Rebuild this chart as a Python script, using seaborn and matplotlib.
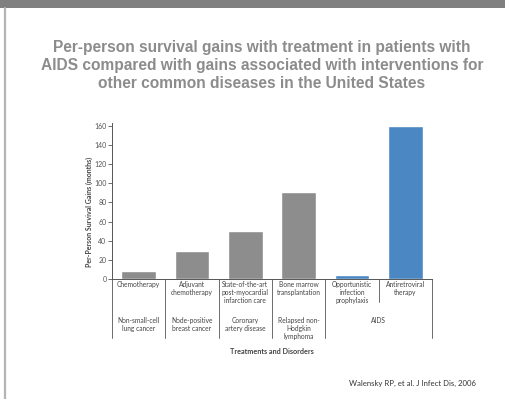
import matplotlib
matplotlib.use("Agg")
import matplotlib.pyplot as plt
from matplotlib.patches import Rectangle
from matplotlib.lines import Line2D
import seaborn as sns
import pandas as pd

# Treatments, the disorders they address, and per-person survival gains (months)
treatments = [
    "Chemotherapy",
    "Adjuvant\nchemotherapy",
    "State-of-the-art\npost-myocardial\ninfarction care",
    "Bone marrow\ntransplantation",
    "Opportunistic\ninfection\nprophylaxis",
    "Antiretroviral\ntherapy",
]
disorders = [
    "Non-small-cell\nlung cancer",
    "Node-positive\nbreast cancer",
    "Coronary\nartery disease",
    "Relapsed non-\nHodgkin\nlymphoma",
]
aids_label = "AIDS"
gains = [8, 29, 50, 91, 4, 160]
groups = ["Other", "Other", "Other", "Other", "AIDS", "AIDS"]
yticks = [0, 20, 40, 60, 80, 100, 120, 140, 160]

title = ("Per-person survival gains with treatment in patients with\n"
         "AIDS compared with gains associated with interventions for\n"
         "other common diseases in the United States")
citation = "Walensky RP, et al. J Infect Dis, 2006"

sns.set_theme(style="white")
plt.rcParams["font.family"] = ["Lato", "DejaVu Sans"]

df = pd.DataFrame({"treatment": treatments, "gain": gains, "group": groups})

W, H = 506, 399
fig = plt.figure(figsize=(W / 100, H / 100), dpi=100)
fig.patch.set_facecolor("white")

# Slide frame: dark band on top, thin rule on the left
fig.add_artist(Rectangle((0, 1 - 8 / H), 1, 8 / H, transform=fig.transFigure,
                         facecolor="#808080", edgecolor="none"))
fig.add_artist(Line2D([5.5 / W, 5.5 / W], [0, 1 - 8 / H], transform=fig.transFigure,
                      color="#b4b4b4", linewidth=1.6))

fig.text(262 / W, 1 - 65.5 / H, title, ha="center", va="center", fontsize=11.2,
         fontweight="bold", color="#8c8c8c", linespacing=1.23,
         family=["Liberation Sans", "DejaVu Sans"])

ax_l, ax_r, ax_b, ax_t = 112, 432, 279, 123
ax = fig.add_axes([ax_l / W, 1 - ax_b / H, (ax_r - ax_l) / W, (ax_b - ax_t) / H])

sns.barplot(data=df, x="treatment", y="gain", hue="group",
            palette={"Other": "#8d8d8d", "AIDS": "#4a87c3"},
            dodge=False, width=0.65, legend=False, saturation=1, ax=ax)

ax.set_xlim(-0.5, len(treatments) - 0.5)
ax.set_ylim(0, 163)
ax.set_yticks(yticks)
ax.set_xticks([])
ax.set_xlabel("")
ax.set_ylabel("")
ax.tick_params(axis="y", which="both", left=True, length=3, width=0.6,
               pad=1, labelsize=5, colors="#555555", direction="out")
for side in ("top", "right"):
    ax.spines[side].set_visible(False)
for side in ("left", "bottom"):
    ax.spines[side].set_color("#555555")
    ax.spines[side].set_linewidth(0.7)

axh = ax_b - ax_t
trans = ax.get_xaxis_transform()
full_bottom = -(338 - ax_b) / axh
short_bottom = -(302 - ax_b) / axh

# Table grid under the axis
for i in range(len(treatments) + 1):
    xb = i - 0.5
    yb = short_bottom if i == 5 else full_bottom
    ax.plot([xb, xb], [0, yb], transform=trans, color="#555555",
            linewidth=0.6, clip_on=False)

for i, t in enumerate(treatments):
    ax.text(i, -0.012, t, transform=trans, ha="center", va="top",
            fontsize=4.8, color="#444444", linespacing=1.15)

dis_top = -(317 - ax_b) / axh
for i, d in enumerate(disorders):
    ax.text(i, dis_top, d, transform=trans, ha="center", va="top",
            fontsize=4.8, color="#444444", linespacing=1.15)
ax.text(4.5, dis_top, aids_label, transform=trans, ha="center", va="top",
        fontsize=4.8, color="#444444")

ax.text(0.5, -(352 - ax_b) / axh, "Treatments and Disorders", transform=ax.transAxes,
        ha="center", va="center", fontsize=5.2, fontweight="bold", color="#444444")
ax.text((89 - ax_l) / (ax_r - ax_l), (ax_b - 212) / axh,
        "Per-Person Survival Gains (months)", transform=ax.transAxes,
        rotation=90, ha="center", va="center", fontsize=5, fontweight="bold",
        color="#444444")

fig.text(349 / W, 1 - 383 / H, citation, ha="left", va="center",
         fontsize=5.6, color="#333333")

fig.savefig("out.png", dpi=100, facecolor="white")
